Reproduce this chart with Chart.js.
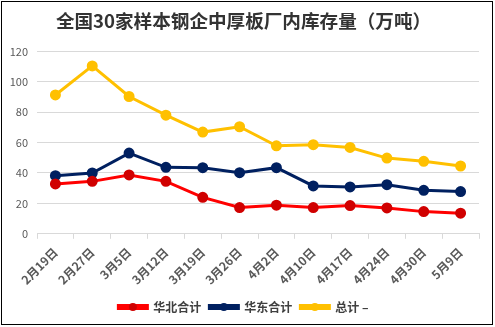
<!DOCTYPE html>
<html><head><meta charset="utf-8">
<script src="https://cdn.jsdelivr.net/npm/chart.js@4/dist/chart.umd.min.js"></script>
<style>html,body{margin:0;padding:0;background:#fff;}#w{position:absolute;left:0;top:0;width:495px;height:327px;}</style>
</head><body><div id="w"><canvas id="c" width="495" height="327"></canvas></div>
<script>
const categories = ["2月19日","2月27日","3月5日","3月12日","3月19日","3月26日","4月2日","4月10日","4月17日","4月24日","4月30日","5月9日"];
const huabei = [32.8,34.5,38.7,34.5,24.0,17.3,18.8,17.3,18.6,17.0,14.6,13.6];
const huadong = [38.2,40.0,53.1,43.7,43.5,40.2,43.5,31.5,30.8,32.3,28.6,27.8];
const zongji = [91.3,110.4,90.3,78.0,66.9,70.4,57.9,58.6,56.8,49.8,47.7,44.6];
const seriesNames = ["华北合计","华东合计","总计 –"];
const yTicks = [0,20,40,60,80,100,120];

const FONT = "'Noto Sans CJK SC','Noto Sans',sans-serif";
const borderPlugin = {
  id:'frame',
  afterDraw(chart){
    const ctx = chart.ctx;
    ctx.save();
    ctx.strokeStyle = '#000'; ctx.lineWidth = 1;
    ctx.strokeRect(1.5,1.5,491,323);
    const lg = chart.legend;
    if (lg && lg.legendHitBoxes){
      lg.legendHitBoxes.forEach((hb,i)=>{
        const ds = chart.data.datasets[i];
        ctx.beginPath();
        ctx.fillStyle = ds.pointBackgroundColor;
        ctx.arc(hb.left + 14.5, hb.top + hb.height/2, 4, 0, Math.PI*2);
        ctx.fill();
      });
    }
    ctx.restore();
  }
};
function mk(label,data,color,pcolor){
  return {label,data,borderColor:color,backgroundColor:color,pointBackgroundColor:pcolor,pointBorderColor:pcolor,
    borderWidth:3,pointRadius:4,pointHoverRadius:4,tension:0,fill:false};
}
new Chart(document.getElementById('c'),{
  type:'line',
  data:{labels:categories,datasets:[
    mk(seriesNames[0],huabei,'#ff0000','#d00000'),
    mk(seriesNames[1],huadong,'#002060','#002060'),
    mk(seriesNames[2],zongji,'#ffc000','#ffc000')
  ]},
  options:{
    responsive:false,animation:false,
    layout:{padding:{left:8,right:16,top:0,bottom:4}},
    plugins:{
      title:{display:true,text:'全国30家样本钢企中厚板厂内库存量（万吨）',color:'#333333',
        font:{family:FONT,size:18.6,weight:'bold'},padding:{top:10,bottom:19}},
      legend:{position:'bottom',
        labels:{boxWidth:29,boxHeight:3,padding:8,color:'#404040',font:{family:FONT,size:12,weight:'bold'}}},
      tooltip:{enabled:false}
    },
    scales:{
      x:{offset:true,
        grid:{offset:true,drawOnChartArea:false,drawTicks:true,tickLength:5,color:'#d9d9d9'},
        border:{color:'#d9d9d9'},
        ticks:{minRotation:45,maxRotation:45,color:'#595959',font:{family:FONT,size:12,weight:'bold'},padding:6}},
      y:{min:0,max:120,
        afterBuildTicks(s){s.ticks=yTicks.map(v=>({value:v}));},
        afterFit(s){s.width=29;},
        grid:{color:'#d9d9d9',drawTicks:false},
        border:{display:false},
        ticks:{color:'#595959',padding:9,font:{family:FONT,size:11}}}
    }
  },
  plugins:[borderPlugin]
});
</script></body></html>
